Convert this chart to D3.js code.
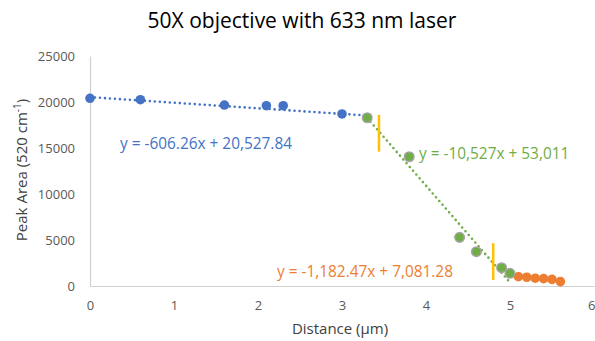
<!DOCTYPE html>
<html>
<head>
<meta charset="utf-8">
<script src="https://cdn.jsdelivr.net/npm/d3@7"></script>
<style>
  html, body { margin: 0; padding: 0; background: #fff; }
  svg text { font-family: "Open Sans", "Liberation Sans", sans-serif; }
</style>
</head>
<body>
<svg id="chart" width="595" height="341"></svg>
<script>
// Peak area of the 520 cm-1 band versus distance, split into three regimes
const blueX = [0, 0.6, 1.6, 2.1, 2.3, 3.0];
const blueY = [20400, 20250, 19670, 19600, 19600, 18700];
const greenX = [3.3, 3.8, 4.4, 4.6, 4.9, 5.0];
const greenY = [18290, 14050, 5290, 3730, 1990, 1380];
const orangeX = [5.1, 5.2, 5.3, 5.4, 5.5, 5.6];
const orangeY = [1010, 950, 850, 800, 720, 480];

// Linear fits (slope, intercept) and the x range each fit spans
const blueFit = { m: -606.26, b: 20527.84, x0: 0, x1: 3.3, label: "y = -606.26x + 20,527.84" };
const greenFit = { m: -10527, b: 53011, x0: 3.3, x1: 5.0, label: "y = -10,527x + 53,011" };
const orangeFit = { m: -1182.47, b: 7081.28, x0: 5.1, x1: 5.6, label: "y = -1,182.47x + 7,081.28" };

// Regime boundary markers: x position and vertical extent
const boundaryX = [3.44, 4.80];
const boundaryTop = [18600, 4650];
const boundaryBottom = [14600, 650];

const xTicks = [0, 1, 2, 3, 4, 5, 6];
const yTicks = [0, 5000, 10000, 15000, 20000, 25000];

const colors = { blue: "#4472C4", green: "#70AD47", orange: "#ED7D31", gray: "#A5A5A5", marker: "#FFC000" };

const svg = d3.select("#chart");
const x = d3.scaleLinear().domain([0, 6]).range([90, 594]);
const y = d3.scaleLinear().domain([0, 25000]).range([286, 56]);

// Title
svg.append("text")
  .attr("x", 302).attr("y", 28)
  .attr("text-anchor", "middle")
  .attr("font-size", 21)
  .attr("fill", "#000")
  .text("50X objective with 633 nm laser");

// Axes
const xAxis = d3.axisBottom(x).tickValues(xTicks).tickSize(0).tickPadding(15).tickFormat(d3.format("d"));
const yAxis = d3.axisLeft(y).tickValues(yTicks).tickSize(0).tickPadding(15).tickFormat(d3.format("d"));

const gx = svg.append("g").attr("transform", `translate(0,${y(0)})`).call(xAxis);
const gy = svg.append("g").attr("transform", `translate(${x(0)},0)`).call(yAxis);
[gx, gy].forEach(g => {
  g.select(".domain").attr("stroke", "#D0D0D0").attr("stroke-width", 1.2);
  g.selectAll("text").attr("fill", "#595959").attr("font-size", 13).attr("font-family", '"Open Sans", sans-serif');
});
// keep the last x tick label inside the drawing area
gx.selectAll(".tick text").filter(d => d === 6).attr("text-anchor", "end").attr("dx", 1);

// Axis titles
svg.append("text")
  .attr("x", 340).attr("y", 334)
  .attr("text-anchor", "middle")
  .attr("font-size", 15)
  .attr("fill", "#404040")
  .text("Distance (µm)");

const yTitle = svg.append("text")
  .attr("transform", `translate(27,170) rotate(-90)`)
  .attr("text-anchor", "middle")
  .attr("font-size", 15)
  .attr("fill", "#404040");
yTitle.append("tspan").text("Peak Area (520 cm");
yTitle.append("tspan").attr("font-size", 10).attr("dy", -6).text("-1");
yTitle.append("tspan").attr("dy", 6).text(")");

// Trend lines
function trend(fit, color) {
  svg.append("line")
    .attr("x1", x(fit.x0)).attr("y1", y(fit.m * fit.x0 + fit.b))
    .attr("x2", x(fit.x1)).attr("y2", y(fit.m * fit.x1 + fit.b))
    .attr("stroke", color)
    .attr("stroke-width", 2.6)
    .attr("stroke-dasharray", "0 5")
    .attr("stroke-linecap", "round");
}
trend(blueFit, colors.blue);
trend(greenFit, colors.green);
trend(orangeFit, colors.orange);

// Boundary markers
svg.selectAll("line.boundary")
  .data(boundaryX)
  .join("line")
  .attr("class", "boundary")
  .attr("x1", d => x(d)).attr("x2", d => x(d))
  .attr("y1", (d, i) => y(boundaryTop[i]))
  .attr("y2", (d, i) => y(boundaryBottom[i]))
  .attr("stroke", colors.marker)
  .attr("stroke-width", 2.5);

// Data points
function points(xs, ys, fill, stroke) {
  svg.append("g").selectAll("circle")
    .data(xs)
    .join("circle")
    .attr("cx", d => x(d))
    .attr("cy", (d, i) => y(ys[i]))
    .attr("r", 4.8)
    .attr("fill", fill)
    .attr("stroke", stroke)
    .attr("stroke-width", stroke === "none" ? 0 : 1.5);
}
points(blueX, blueY, colors.blue, "none");
points(orangeX, orangeY, colors.orange, "none");
points(greenX, greenY, colors.green, colors.gray);

// Fit equations
svg.append("text").attr("x", 120).attr("y", 149)
  .attr("font-size", 15.4).attr("fill", colors.blue).text(blueFit.label);
svg.append("text").attr("x", 419).attr("y", 159)
  .attr("font-size", 15.4).attr("fill", colors.green).text(greenFit.label);
svg.append("text").attr("x", 277).attr("y", 277)
  .attr("font-size", 15.4).attr("fill", colors.orange).text(orangeFit.label);
</script>
</body>
</html>
